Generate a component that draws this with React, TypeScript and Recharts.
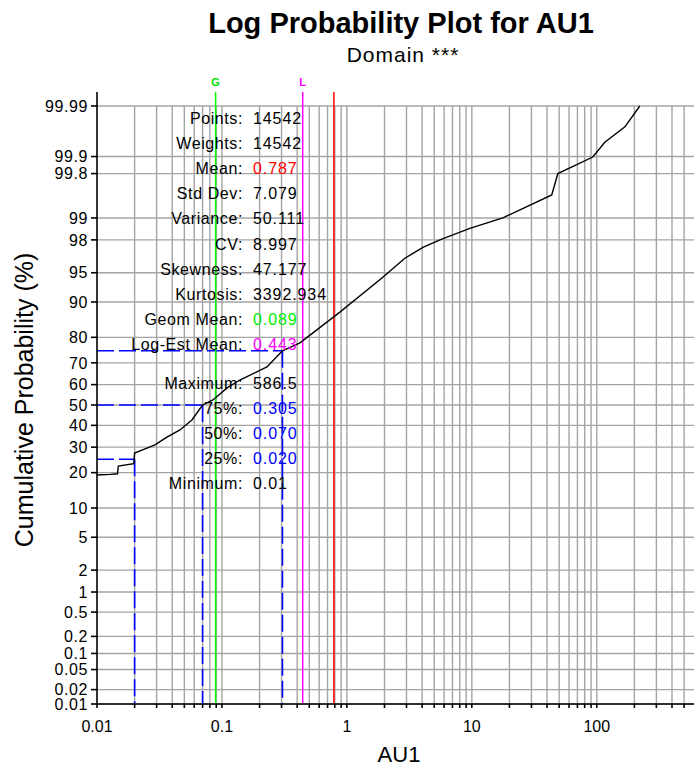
import React from 'react';
import { ComposedChart, Line, XAxis, YAxis, ReferenceLine } from 'recharts';

// ---- data ----
const auValues = [0.01, 0.0128, 0.0146, 0.0148, 0.0197, 0.02, 0.0251, 0.0291, 0.0363, 0.0461, 0.0575, 0.07, 0.0847, 0.11, 0.139, 0.229, 0.305, 0.421, 0.575, 0.879, 1.94, 2.91, 4.06, 5.55, 9.64, 17.7, 43.6, 48.8, 92.9, 116, 168, 221];
const cumProbPct = [19.2, 19.4, 19.6, 22.4, 23.3, 27.5, 29.6, 31.0, 34.5, 37.8, 42.6, 50.0, 52.5, 58.4, 62.2, 68.2, 75.0, 78.0, 82.5, 87.6, 94.4, 96.6, 97.5, 98.0, 98.6, 99.0, 99.55, 99.8, 99.898, 99.946, 99.973, 99.99];

const yTickLabels = [0.01, 0.02, 0.05, 0.1, 0.2, 0.5, 1, 2, 5, 10, 20, 30, 40, 50, 60, 70, 80, 90, 95, 98, 99, 99.8, 99.9, 99.99];
const xDecades = [0.01, 0.1, 1, 10, 100];
const xDecadeLabels = ['0.01', '0.1', '1', '10', '100'];
const gridMultipliers = [1, 2, 3, 4, 5, 6, 7, 8, 9];
const xMax = 600;

const quantileProbs = [25, 50, 75];
const quantileValues = [0.02, 0.07, 0.305];

const geomMean = 0.089;
const logEstMean = 0.443;
const meanValue = 0.787;

const statLabels = ['Points:', 'Weights:', 'Mean:', 'Std Dev:', 'Variance:', 'CV:', 'Skewness:', 'Kurtosis:', 'Geom Mean:', 'Log-Est Mean:', 'Maximum:', '75%:', '50%:', '25%:', 'Minimum:'];
const statValues = ['14542', '14542', '0.787', '7.079', '50.111', '8.997', '47.177', '3392.934', '0.089', '0.443', '586.5', '0.305', '0.070', '0.020', '0.01'];
const statColors = ['#000', '#000', '#ff0000', '#000', '#000', '#000', '#000', '#000', '#00ee00', '#ff00ff', '#000', '#0000ff', '#0000ff', '#0000ff', '#000'];

// ---- helpers ----
function probit(pct: number): number {
  const p = pct / 100;
  const a = [-3.969683028665376e1, 2.209460984245205e2, -2.759285104469687e2, 1.38357751867269e2, -3.066479806614716e1, 2.506628277459239];
  const b = [-5.447609879822406e1, 1.615858368580409e2, -1.556989798598866e2, 6.680131188771972e1, -1.328068155288572e1];
  const c = [-7.784894002430293e-3, -3.223964580411365e-1, -2.400758277161838, -2.549732539343734, 4.374664141464968, 2.938163982698783];
  const d = [7.784695709041462e-3, 3.224671290700398e-1, 2.445134137142996, 3.754408661907416];
  const pl = 0.02425;
  if (p < pl) {
    const q = Math.sqrt(-2 * Math.log(p));
    return (((((c[0] * q + c[1]) * q + c[2]) * q + c[3]) * q + c[4]) * q + c[5]) / ((((d[0] * q + d[1]) * q + d[2]) * q + d[3]) * q + 1);
  }
  if (p > 1 - pl) {
    const q = Math.sqrt(-2 * Math.log(1 - p));
    return -(((((c[0] * q + c[1]) * q + c[2]) * q + c[3]) * q + c[4]) * q + c[5]) / ((((d[0] * q + d[1]) * q + d[2]) * q + d[3]) * q + 1);
  }
  const q = p - 0.5;
  const r = q * q;
  return (((((a[0] * r + a[1]) * r + a[2]) * r + a[3]) * r + a[4]) * r + a[5]) * q / (((((b[0] * r + b[1]) * r + b[2]) * r + b[3]) * r + b[4]) * r + 1);
}

const chartData = auValues.map((v, i) => ({ x: v, z: probit(cumProbPct[i]) }));
const yTickZ = yTickLabels.map((p) => probit(p));
const zBottom = probit(0.01);
const zGridTop = probit(99.99);
const zTop = zGridTop + 0.174;

const xGridTicks: number[] = [];
xDecades.forEach((d) => gridMultipliers.forEach((m) => {
  const v = parseFloat((m * d).toPrecision(4));
  if (v < xMax) xGridTicks.push(v);
}));

const FONT = '"Liberation Sans", Arial, Helvetica, sans-serif';
const GRID = '#a4a4a4';

const yLabelFor = (v: number) => {
  let best = 0;
  yTickZ.forEach((z, i) => { if (Math.abs(z - v) < Math.abs(yTickZ[best] - v)) best = i; });
  return String(yTickLabels[best]);
};
const xLabelFor = (v: number) => {
  const i = xDecades.findIndex((d) => Math.abs(d - v) / d < 1e-6);
  return i >= 0 ? xDecadeLabels[i] : '';
};

export default function App() {
  const rowStart = 118;
  const rowStep = 25.2;
  return (
    <div style={{ position: 'absolute', left: 0, top: 0, width: 696, height: 767, background: '#fff', fontFamily: FONT }}>
      <ComposedChart width={696} height={767} data={chartData} margin={{ top: 92, right: 2, bottom: 23, left: 0 }}>
        {yTickZ.map((z) => (
          <ReferenceLine key={'h' + z} y={z} stroke={GRID} strokeWidth={1.4} />
        ))}
        {xGridTicks.filter((v) => v > 0.01).map((v) => (
          <ReferenceLine key={'g' + v} segment={[{ x: v, y: zBottom }, { x: v, y: zGridTop }]} stroke={GRID} strokeWidth={1.4} />
        ))}
        <XAxis
          dataKey="x"
          type="number"
          scale="log"
          domain={[0.01, xMax]}
          allowDataOverflow
          ticks={xGridTicks}
          interval={0}
          tickFormatter={xLabelFor}
          height={40}
          tickSize={4}
          tickMargin={13}
          stroke="#000"
          strokeWidth={1.6}
          tick={{ fill: '#000', fontSize: 16, fontFamily: FONT }}
        />
        <YAxis
          type="number"
          domain={[zBottom, zTop]}
          allowDataOverflow
          ticks={yTickZ}
          interval={0}
          tickFormatter={yLabelFor}
          width={97}
          tickSize={6}
          tickMargin={3}
          stroke="#000"
          strokeWidth={1.6}
          tick={{ fill: '#000', fontSize: 16, fontFamily: FONT, letterSpacing: 0.6 }}
        />
        {quantileProbs.map((p, i) => (
          <ReferenceLine key={'qh' + p} segment={[{ x: 0.01, y: probit(p) }, { x: quantileValues[i], y: probit(p) }]} stroke="#0000ff" strokeWidth={1.6} strokeDasharray="17 5" />
        ))}
        {quantileProbs.map((p, i) => (
          <ReferenceLine key={'qv' + p} segment={[{ x: quantileValues[i], y: probit(p) }, { x: quantileValues[i], y: zBottom }]} stroke="#0000ff" strokeWidth={1.6} strokeDasharray="17 5" />
        ))}
        <ReferenceLine x={geomMean} stroke="#00ff00" strokeWidth={1.5}
          label={{ value: 'G', position: 'top', offset: 6, fill: '#00e000', fontSize: 11, fontWeight: 'bold', fontFamily: FONT }} />
        <ReferenceLine x={logEstMean} stroke="#ff00ff" strokeWidth={1.5}
          label={{ value: 'L', position: 'top', offset: 6, fill: '#ff00ff', fontSize: 11, fontWeight: 'bold', fontFamily: FONT }} />
        <ReferenceLine x={meanValue} stroke="#ff0000" strokeWidth={1.5} />
        <Line dataKey="z" type="linear" dot={false} stroke="#000" strokeWidth={1.4} isAnimationActive={false} />
      </ComposedChart>
      <svg width={696} height={767} style={{ position: 'absolute', left: 0, top: 0, pointerEvents: 'none' }}>
        <text x={401} y={33} textAnchor="middle" fontFamily={FONT} fontSize={29} fontWeight="bold" fill="#000">Log Probability Plot for AU1</text>
        <text x={403} y={62} textAnchor="middle" fontFamily={FONT} fontSize={21} letterSpacing={1} fill="#000">Domain ***</text>
        <text transform="translate(33,400) rotate(-90)" textAnchor="middle" fontFamily={FONT} fontSize={25} fill="#000">Cumulative Probability (%)</text>
        <text x={399} y={762} textAnchor="middle" fontFamily={FONT} fontSize={22} fill="#000">AU1</text>
        {statLabels.map((lab, i) => {
          const y = rowStart + i * rowStep + (i >= 10 ? 13 : 0) + 5.5;
          return (
            <g key={lab}>
              <text x={243} y={y} textAnchor="end" fontFamily={FONT} fontSize={16} letterSpacing={0.6} fill="#000">{lab}</text>
              <text x={253} y={y} textAnchor="start" fontFamily={FONT} fontSize={16} letterSpacing={0.9} fill={statColors[i]}>{statValues[i]}</text>
            </g>
          );
        })}
      </svg>
    </div>
  );
}
